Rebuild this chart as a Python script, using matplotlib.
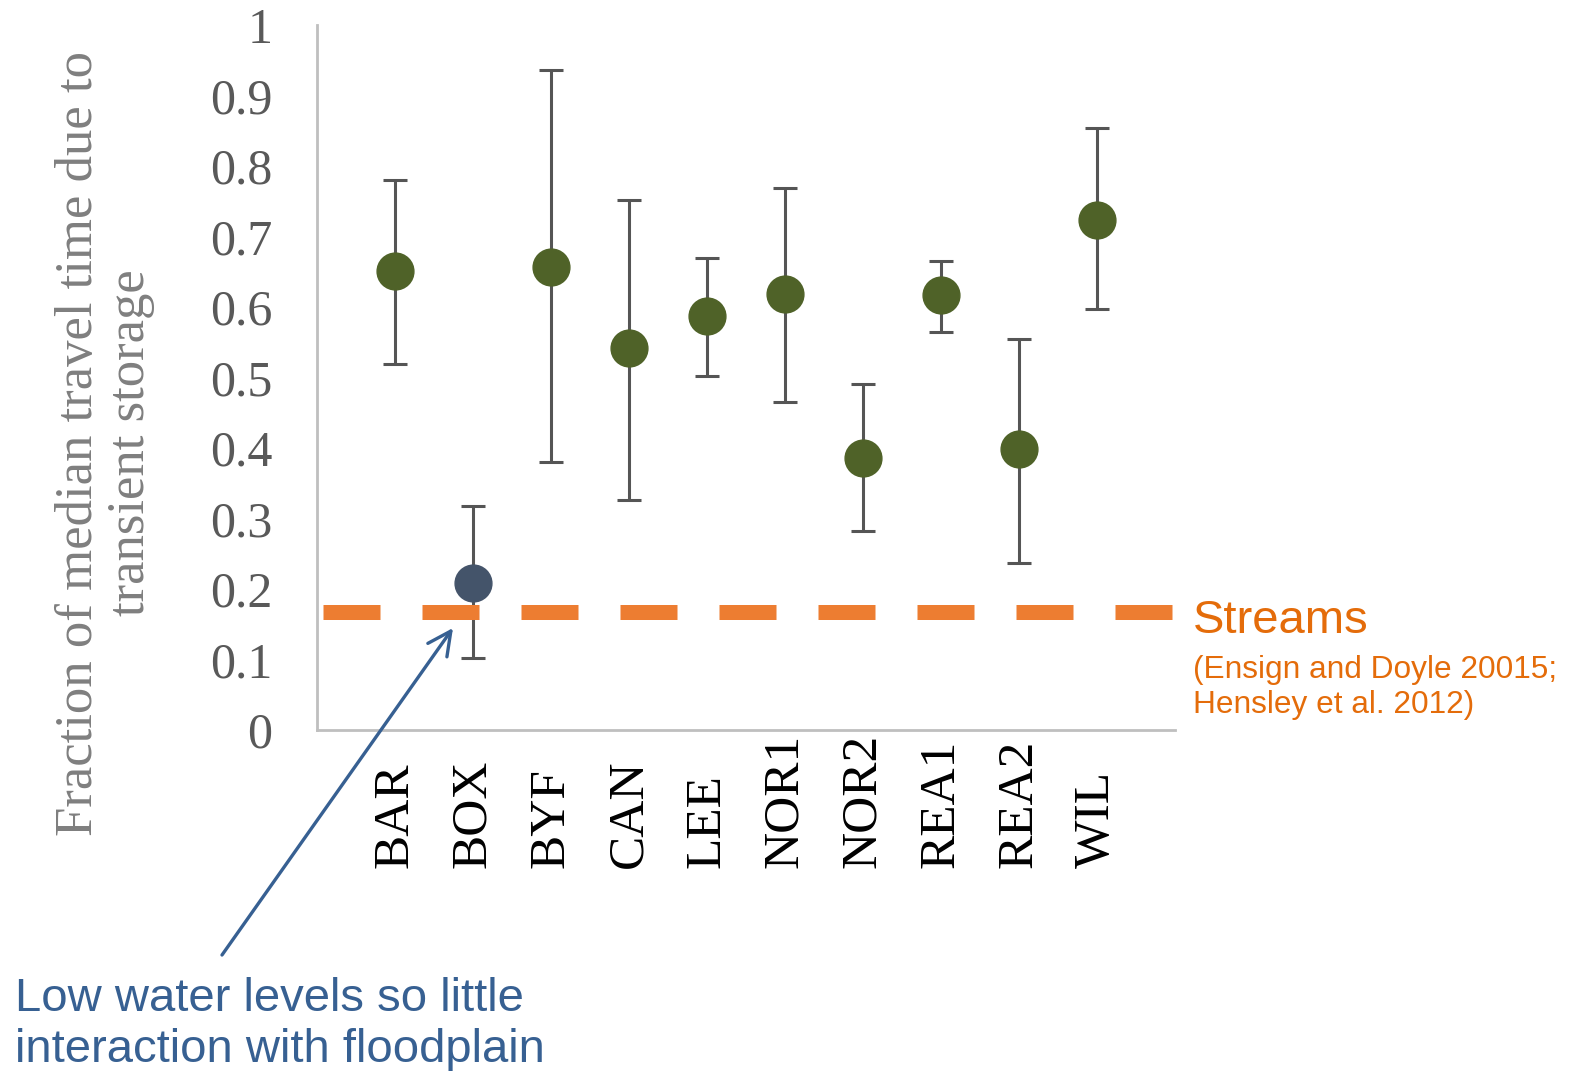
import matplotlib
matplotlib.use('Agg')
import matplotlib.pyplot as plt
import matplotlib.transforms as mtransforms

sites = ['BAR', 'BOX', 'BYF', 'CAN', 'LEE', 'NOR1', 'NOR2', 'REA1', 'REA2', 'WIL']
frac = [0.651, 0.209, 0.657, 0.542, 0.587, 0.618, 0.386, 0.617, 0.399, 0.723]
upper = [0.780, 0.318, 0.936, 0.752, 0.670, 0.769, 0.491, 0.665, 0.555, 0.854]
lower = [0.519, 0.102, 0.380, 0.326, 0.502, 0.465, 0.282, 0.565, 0.237, 0.597]
stream_level = 0.167
yticks = [0, 0.1, 0.2, 0.3, 0.4, 0.5, 0.6, 0.7, 0.8, 0.9, 1]
yticklabels = ['0', '0.1', '0.2', '0.3', '0.4', '0.5', '0.6', '0.7', '0.8', '0.9', '1']

green = '#4f6228'
slate = '#44546a'
orange_line = '#ed7d31'
orange_text = '#e46c0a'
blue_text = '#376092'
grey = '#595959'

serif = 'Liberation Serif'
sans = 'Liberation Sans'

fig = plt.figure(figsize=(15.78, 10.71), dpi=100)
ax = fig.add_axes([0.2009, 0.3184, 0.7446 - 0.2009, 0.9767 - 0.3184])

x = list(range(1, len(sites) + 1))
for i in range(len(sites)):
    c = slate if sites[i] == 'BOX' else green
    ax.errorbar(x[i], frac[i], yerr=[[frac[i] - lower[i]], [upper[i] - frac[i]]],
                fmt='o', color=c, ms=26.5, ecolor='#555555', elinewidth=2.2,
                capsize=8.4, capthick=2.2, zorder=3)

ax.plot([0.08, 11], [stream_level, stream_level], color=orange_line, lw=10.8,
        dashes=(3.8, 2.8), solid_capstyle='butt', dash_capstyle='butt', zorder=4,
        clip_on=False)

ax.set_xlim(0, 11)
ax.set_ylim(0, 1)
ax.set_yticks(yticks)
ax.set_yticklabels(yticklabels, fontsize=36, family=serif, color=grey)
ax.tick_params(axis='y', length=0, pad=32)
ax.set_xticks([])
for s in ['top', 'right']:
    ax.spines[s].set_visible(False)
for s in ['left', 'bottom']:
    ax.spines[s].set_color('#bfbfbf')
    ax.spines[s].set_linewidth(2)

# site names, bottoms aligned like the original
trans = mtransforms.blended_transform_factory(ax.transData, fig.transFigure)
for i in range(len(sites)):
    ax.text(x[i], 1 - 868 / 1071, sites[i], rotation=90, ha='center', va='bottom',
            fontsize=37, family=serif, color='black', transform=trans)

fig.text(105 / 1578, 1 - 443 / 1071,
         'Fraction of median travel time due to\ntransient storage',
         rotation=90, ha='center', va='center', multialignment='center',
         fontsize=38, family=serif, color='#7f7f7f', linespacing=1.12)

fig.text(1193 / 1578, 1 - 633 / 1071, 'Streams', fontsize=34, family=sans,
         color=orange_text, ha='left', va='baseline')
fig.text(1193 / 1578, 1 - 713 / 1071, '(Ensign and Doyle 20015;\nHensley et al. 2012)',
         fontsize=22.8, family=sans, color=orange_text, ha='left', va='baseline',
         linespacing=1.2)

ax.annotate('', xy=(453 / 1578, 1 - 628 / 1071), xycoords='figure fraction',
            xytext=(222 / 1578, 1 - 955 / 1071), textcoords='figure fraction',
            arrowprops=dict(arrowstyle='->', color=blue_text, lw=2.4,
                            mutation_scale=42, shrinkA=0, shrinkB=0))
fig.text(15 / 1578, 1 - 1062 / 1071, 'Low water levels so little\ninteraction with floodplain',
         fontsize=34, family=sans, color=blue_text, ha='left', va='baseline',
         linespacing=1.2)

fig.savefig('out.png', dpi=100)
